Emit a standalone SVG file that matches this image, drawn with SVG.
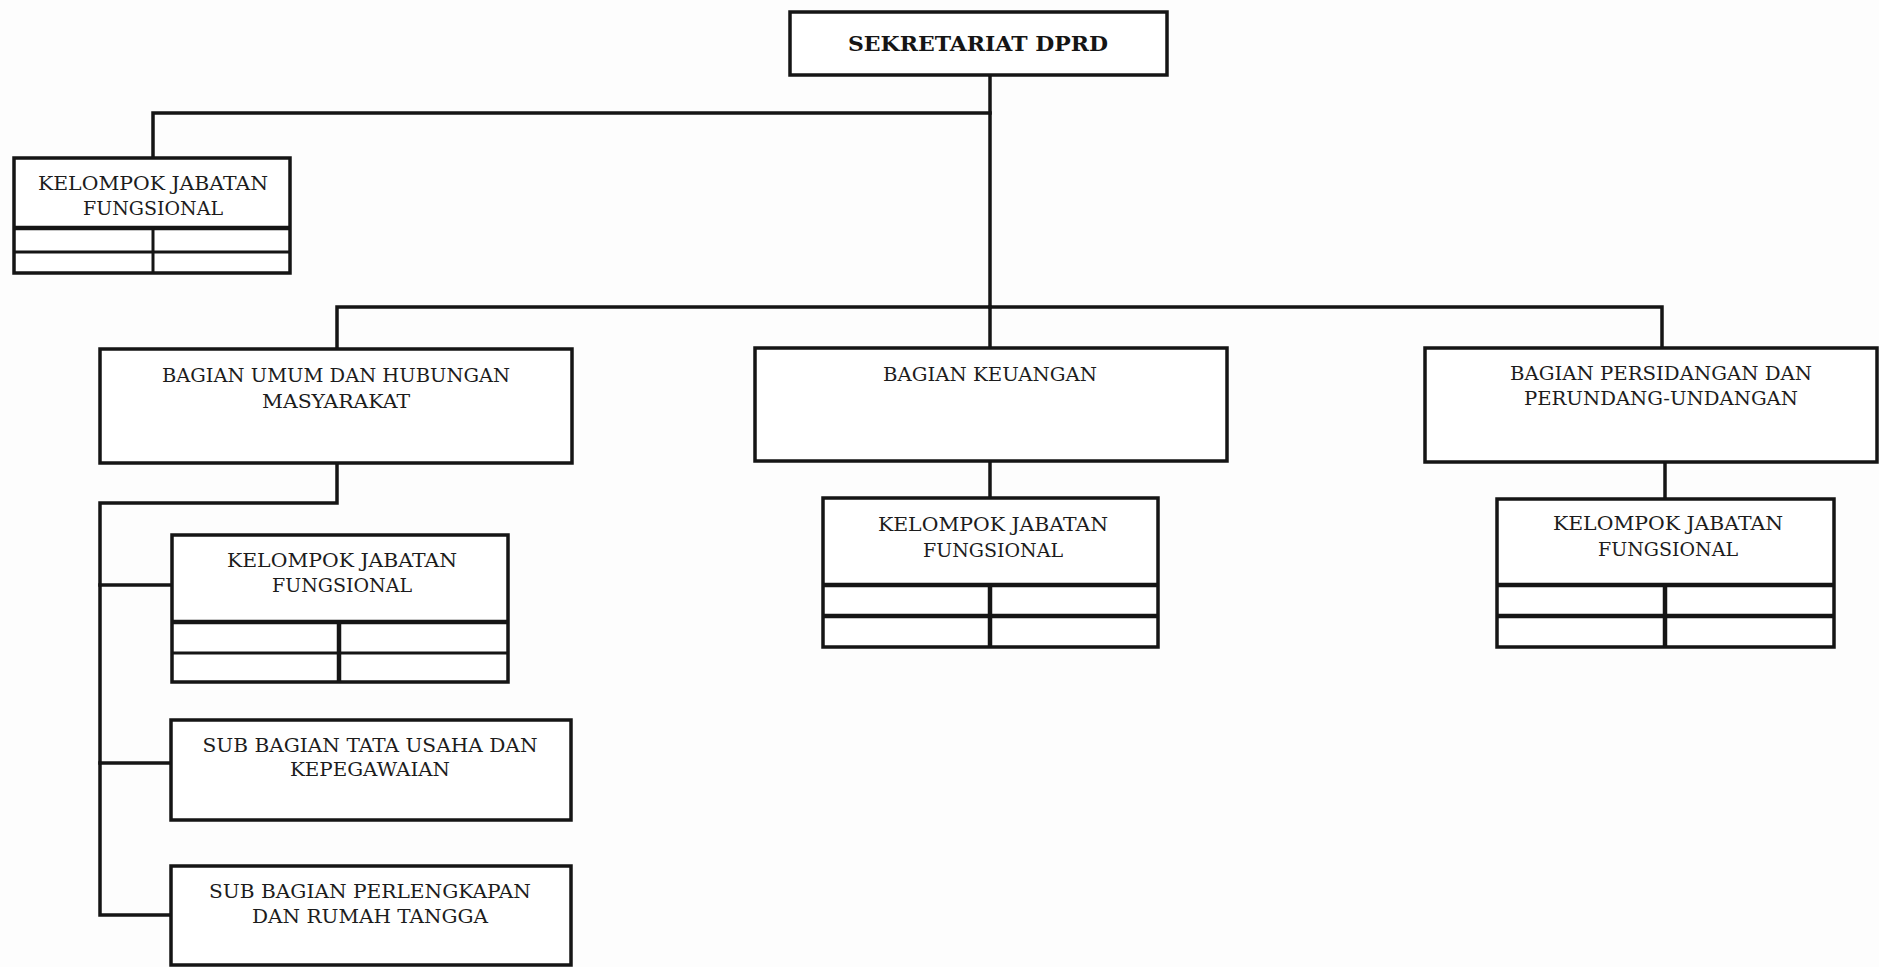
<svg xmlns="http://www.w3.org/2000/svg" width="1879" height="967" viewBox="0 0 1879 967">
  <style>
    .box { fill: #ffffff; stroke: #151515; stroke-width: 3.5; }
    .rule { stroke: #151515; stroke-width: 3; fill: none; }
    .rule-bold { stroke: #151515; stroke-width: 4.5; fill: none; }
    .link { stroke: #151515; stroke-width: 3.5; fill: none; stroke-linecap: square; }
    .label { font-family: "DejaVu Serif", "Liberation Serif", serif; font-size: 19px; fill: #1c1c1c; text-anchor: middle; }
    .title { font-family: "DejaVu Serif", "Liberation Serif", serif; font-size: 20px; font-weight: bold; fill: #151515; text-anchor: middle; }
  </style>
  <rect width="1879" height="967" fill="#fdfdfd"/>

  <!-- connectors -->
  <g id="connectors">
    <path class="link" d="M990 75 V307"/>
    <path class="link" d="M153 158 V113 H990"/>
    <path class="link" d="M337 349 V307 H1662 V348"/>
    <path class="link" d="M990 307 V348"/>
    <path class="link" d="M990 461 V498"/>
    <path class="link" d="M1665 462 V499"/>
    <path class="link" d="M337 463 V503 H100 V915 H171"/>
    <path class="link" d="M100 585 H172"/>
    <path class="link" d="M100 763 H171"/>
  </g>

  <!-- head -->
  <g id="sekretariat">
    <rect class="box" x="790" y="12" width="377" height="63"/>
    <text class="title" x="978" y="51" textLength="260" lengthAdjust="spacingAndGlyphs">SEKRETARIAT DPRD</text>
  </g>

  <!-- functional group attached to the head -->
  <g id="kjf-sekretariat">
    <rect class="box" x="14" y="158" width="276" height="115"/>
    <line class="rule-bold" x1="14" y1="228" x2="290" y2="228"/>
    <line class="rule" x1="14" y1="252" x2="290" y2="252"/>
    <line class="rule" x1="153" y1="228" x2="153" y2="273"/>
    <text class="label" x="153" y="190" textLength="230" lengthAdjust="spacingAndGlyphs">KELOMPOK JABATAN</text>
    <text class="label" x="153" y="215" textLength="140" lengthAdjust="spacingAndGlyphs">FUNGSIONAL</text>
  </g>

  <!-- divisions -->
  <g id="bagian-umum">
    <rect class="box" x="100" y="349" width="472" height="114"/>
    <text class="label" x="336" y="382" textLength="348" lengthAdjust="spacingAndGlyphs">BAGIAN UMUM DAN HUBUNGAN</text>
    <text class="label" x="336" y="408" textLength="148" lengthAdjust="spacingAndGlyphs">MASYARAKAT</text>
  </g>

  <g id="bagian-keuangan">
    <rect class="box" x="755" y="348" width="472" height="113"/>
    <text class="label" x="990" y="381" textLength="214" lengthAdjust="spacingAndGlyphs">BAGIAN KEUANGAN</text>
  </g>

  <g id="bagian-persidangan">
    <rect class="box" x="1425" y="348" width="452" height="114"/>
    <text class="label" x="1661" y="380" textLength="302" lengthAdjust="spacingAndGlyphs">BAGIAN PERSIDANGAN DAN</text>
    <text class="label" x="1661" y="405" textLength="274" lengthAdjust="spacingAndGlyphs">PERUNDANG-UNDANGAN</text>
  </g>

  <!-- functional groups under divisions -->
  <g id="kjf-umum">
    <rect class="box" x="172" y="535" width="336" height="147"/>
    <line class="rule-bold" x1="172" y1="622" x2="508" y2="622"/>
    <line class="rule" x1="172" y1="653" x2="508" y2="653"/>
    <line class="rule-bold" x1="339" y1="622" x2="339" y2="682"/>
    <text class="label" x="342" y="567" textLength="230" lengthAdjust="spacingAndGlyphs">KELOMPOK JABATAN</text>
    <text class="label" x="342" y="592" textLength="140" lengthAdjust="spacingAndGlyphs">FUNGSIONAL</text>
  </g>

  <g id="kjf-keuangan">
    <rect class="box" x="823" y="498" width="335" height="149"/>
    <line class="rule-bold" x1="823" y1="585" x2="1158" y2="585"/>
    <line class="rule-bold" x1="823" y1="616" x2="1158" y2="616"/>
    <line class="rule-bold" x1="990" y1="585" x2="990" y2="647"/>
    <text class="label" x="993" y="531" textLength="230" lengthAdjust="spacingAndGlyphs">KELOMPOK JABATAN</text>
    <text class="label" x="993" y="557" textLength="140" lengthAdjust="spacingAndGlyphs">FUNGSIONAL</text>
  </g>

  <g id="kjf-persidangan">
    <rect class="box" x="1497" y="499" width="337" height="148"/>
    <line class="rule-bold" x1="1497" y1="585" x2="1834" y2="585"/>
    <line class="rule-bold" x1="1497" y1="616" x2="1834" y2="616"/>
    <line class="rule-bold" x1="1665" y1="585" x2="1665" y2="647"/>
    <text class="label" x="1668" y="530" textLength="230" lengthAdjust="spacingAndGlyphs">KELOMPOK JABATAN</text>
    <text class="label" x="1668" y="556" textLength="140" lengthAdjust="spacingAndGlyphs">FUNGSIONAL</text>
  </g>

  <!-- sub-sections -->
  <g id="subbag-tata-usaha">
    <rect class="box" x="171" y="720" width="400" height="100"/>
    <text class="label" x="370" y="752" textLength="335" lengthAdjust="spacingAndGlyphs">SUB BAGIAN TATA USAHA DAN</text>
    <text class="label" x="370" y="776" textLength="160" lengthAdjust="spacingAndGlyphs">KEPEGAWAIAN</text>
  </g>

  <g id="subbag-perlengkapan">
    <rect class="box" x="171" y="866" width="400" height="99"/>
    <text class="label" x="370" y="898" textLength="322" lengthAdjust="spacingAndGlyphs">SUB BAGIAN PERLENGKAPAN</text>
    <text class="label" x="370" y="923" textLength="236" lengthAdjust="spacingAndGlyphs">DAN RUMAH TANGGA</text>
  </g>
</svg>
